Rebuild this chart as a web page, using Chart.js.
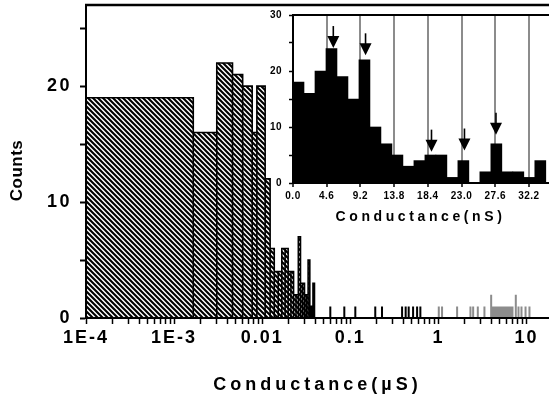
<!DOCTYPE html>
<html><head><meta charset="utf-8">
<script src="https://cdn.jsdelivr.net/npm/chart.js@4.4.1/dist/chart.umd.min.js"></script>
<style>
html,body{margin:0;padding:0;background:#fff;}
#wrap{position:relative;width:549px;height:399px;overflow:hidden;background:#fff;}
#main{position:absolute;left:0;top:0;}
#inset{position:absolute;left:250px;top:0;}
</style></head><body>
<div id="wrap">
<canvas id="main" width="549" height="399"></canvas>
<canvas id="inset" width="299" height="230"></canvas>
</div>
<script>
// ---------- main histogram (µS, log axis) ----------
const histEdges = [0.0001, 0.00165, 0.00305, 0.0046, 0.0060, 0.0077, 0.0087, 0.0108, 0.0123, 0.0137,
  0.0152, 0.0167, 0.0182, 0.0197, 0.0212, 0.0227, 0.0242, 0.0257, 0.0272, 0.0287,
  0.0302, 0.0317, 0.0332, 0.0347, 0.0362, 0.0377, 0.0392];
const histCounts = [19, 16, 22, 21, 20, 16, 20, 12, 6, 4, 4, 6, 6, 4, 4, 2, 2, 7, 3, 3, 2, 2, 5, 1, 1, 3];
const blackSpikeX = [0.0593, 0.0855, 0.114, 0.192, 0.229, 0.387, 0.425, 0.460, 0.516, 0.573, 0.624];
const blackSpikeCounts = [1, 1, 1, 1, 1, 1, 1, 1, 1, 1, 1];
const graySpikeX = [1.01, 1.10, 1.63, 2.31, 2.48, 2.80, 3.33, 3.97, 4.15, 4.33, 4.50, 4.68, 4.87, 5.07,
  5.27, 5.48, 5.70, 5.93, 6.17, 6.41, 6.66, 6.93, 7.56, 8.11, 8.77, 9.75, 10.8];
const graySpikeCounts = [1, 1, 1, 1, 1, 1, 1, 2, 1, 1, 1, 1, 1, 1, 1, 1, 1, 1, 1, 1, 1, 1, 2, 1, 1, 1, 1];
const majorTickValues = [0.0001, 0.001, 0.01, 0.1, 1, 10];
const majorTickLabels = ['1E-4', '1E-3', '0.01', '0.1', '1', '10'];

// ---------- inset histogram (nS, linear axis) ----------
const insetBinLeft = [0, 1.5, 3, 4.5, 6, 7.5, 9, 10.5, 12, 13.5, 15, 16.5, 18, 19.5, 21, 22.5, 24, 25.5, 27, 28.5, 30, 31.5, 33];
const insetCounts = [18, 16, 20, 24, 19, 15, 22, 10, 7, 5, 3, 4, 5, 5, 1, 4, 0, 2, 7, 2, 2, 1, 4];
const insetTickValues = [0, 4.6, 9.2, 13.8, 18.4, 23.0, 27.6, 32.2];
const arrowX = [5.5, 9.9, 18.9, 23.4, 27.7];
const arrowTipY = [24.1, 22.8, 5.6, 5.8, 8.6];

const FONT = "'Liberation Sans', Arial, sans-serif";
Chart.defaults.color = '#000';
Chart.defaults.font.family = FONT;

function hatchPattern() {
  const s = 5, c = document.createElement('canvas');
  c.width = s; c.height = s;
  const g = c.getContext('2d');
  g.fillStyle = '#fff'; g.fillRect(0, 0, s, s);
  g.strokeStyle = '#000'; g.lineWidth = 2.1;
  g.beginPath();
  [-s, 0, s].forEach(k => { g.moveTo(-1, k - 1); g.lineTo(s + 1, s + k + 1); });
  g.stroke();
  return g.createPattern(c, 'repeat');
}

function histPolyline(edges, counts) {
  const pts = [];
  for (let i = 0; i < counts.length; i++) {
    pts.push({x: edges[i], y: 0}, {x: edges[i], y: counts[i]}, {x: edges[i + 1], y: counts[i]}, {x: edges[i + 1], y: 0});
  }
  return pts;
}
function spikePoints(xs, cs) {
  const pts = [];
  xs.forEach((x, i) => { pts.push({x, y: 0}, {x, y: cs[i]}, {x, y: null}); });
  return pts;
}

const framePlugin = {
  id: 'frame',
  afterDraw(chart, args, o) {
    if (!o || !o.top) return;
    const {ctx, chartArea: a} = chart;
    ctx.save(); ctx.strokeStyle = '#000'; ctx.lineWidth = o.width || 2;
    ctx.beginPath(); ctx.moveTo(a.left - 1, a.top); ctx.lineTo(a.right + (o.extend || 0), a.top); ctx.stroke();
    ctx.restore();
  }
};
const textFxPlugin = {
  id: 'textFx',
  beforeDraw(chart, args, o) {
    const conf = (o && o.scales) || {};
    for (const id in chart.scales) {
      const s = chart.scales[id];
      if (s._fx) continue; s._fx = true;
      const cfg = conf[id] || {};
      const dt = s.drawTitle, dl = s.drawLabels;
      s.drawTitle = function (...a) { const c = this.ctx; c.save(); c.letterSpacing = cfg.title || '0px'; if (cfg.dy) c.translate(0, cfg.dy); dt.apply(this, a); c.restore(); };
      s.drawLabels = function (...a) { const c = this.ctx; c.save(); c.letterSpacing = cfg.ticks || '0px'; dl.apply(this, a); c.restore(); };
    }
  }
};
const arrowsPlugin = {
  id: 'arrows',
  afterDatasetsDraw(chart, args, o) {
    if (!o || !o.xs) return;
    const {ctx} = chart, x = chart.scales.x, y = chart.scales.y;
    ctx.save(); ctx.fillStyle = '#000'; ctx.strokeStyle = '#000'; ctx.lineWidth = 1.6;
    o.xs.forEach((xv, i) => {
      const px = x.getPixelForValue(xv), py = y.getPixelForValue(o.ys[i]);
      ctx.beginPath(); ctx.moveTo(px, py - o.len); ctx.lineTo(px, py - o.head + 1); ctx.stroke();
      ctx.beginPath(); ctx.moveTo(px - o.half, py - o.head); ctx.lineTo(px + o.half, py - o.head); ctx.lineTo(px, py); ctx.closePath(); ctx.fill();
    });
    ctx.restore();
  }
};

// ---------- main chart ----------
new Chart(document.getElementById('main'), {
  type: 'line',
  data: {datasets: [
    {data: histPolyline(histEdges, histCounts), borderColor: '#000', borderWidth: 1.6, backgroundColor: hatchPattern(),
      fill: 'origin', pointRadius: 0, tension: 0, borderJoinStyle: 'miter'},
    {data: spikePoints(blackSpikeX, blackSpikeCounts), borderColor: '#000', borderWidth: 2, fill: false, pointRadius: 0, spanGaps: false},
    {data: spikePoints(graySpikeX, graySpikeCounts), borderColor: '#8c8c8c', borderWidth: 2, fill: false, pointRadius: 0, spanGaps: false}
  ]},
  options: {
    responsive: false, animation: false, events: [],
    layout: {padding: {top: 5, right: 0, left: 0, bottom: 0}},
    plugins: {
      legend: {display: false}, tooltip: {enabled: false},
      frame: {top: true, width: 2.5, extend: 0},
      textFx: {scales: {x: {title: '4px', ticks: '2px'}, y: {title: '0.5px', ticks: '2.5px', dy: 9}}}
    },
    scales: {
      x: {
        type: 'logarithmic', min: 0.0001, max: 18,
        afterBuildTicks: s => {
          const t = [];
          for (let e = -4; e <= 1; e++) for (let k = 1; k <= 9; k++) { const v = k * Math.pow(10, e); if (v <= s.max) t.push({value: v}); }
          s.ticks = t;
        },
        afterFit: s => { s.height = 81; s.paddingLeft = 0; s.paddingRight = 0; },
        grid: {drawOnChartArea: false, drawTicks: true, tickLength: 6, tickColor: '#000', tickWidth: 1.5},
        border: {display: true, color: '#000', width: 2, z: 1},
        ticks: {autoSkip: false, maxRotation: 0, minRotation: 0, padding: 3, color: '#000',
          font: {family: FONT, size: 18, weight: 'bold'},
          callback: (v) => { const i = majorTickValues.findIndex(m => Math.abs(m - v) / m < 1e-6); return i >= 0 ? majorTickLabels[i] : ''; }},
        title: {display: true, text: 'Conductance(µS)', color: '#000', font: {family: FONT, size: 18, weight: 'bold'}, padding: {top: 0, bottom: 3}}
      },
      y: {
        type: 'linear', min: 0, max: 27,
        afterFit: s => { s.width = 86; s.paddingTop = 0; s.paddingBottom = 0; },
        grid: {drawOnChartArea: false, drawTicks: true, tickLength: 6, tickColor: '#000', tickWidth: 2},
        border: {display: true, color: '#000', width: 2, z: 1},
        ticks: {stepSize: 5, includeBounds: false, padding: 8, color: '#000', font: {family: FONT, size: 18, weight: 'bold'},
          callback: v => (v % 10 === 0 ? String(v) : '')},
        title: {display: true, text: 'Counts', color: '#000', font: {family: FONT, size: 17, weight: 'bold'}, padding: {top: 7, bottom: 0}}
      }
    }
  },
  plugins: [framePlugin, textFxPlugin]
});

// ---------- inset chart ----------
const insetBinWidth = insetBinLeft[1] - insetBinLeft[0];
new Chart(document.getElementById('inset'), {
  type: 'bar',
  data: {datasets: [{
    data: insetBinLeft.map((l, i) => ({x: l + insetBinWidth / 2, y: insetCounts[i]})),
    backgroundColor: '#000', borderWidth: 0, barPercentage: 1, categoryPercentage: 1
  }]},
  options: {
    responsive: false, animation: false, events: [],
    layout: {padding: {top: 15, right: 1, left: 0, bottom: 0}},
    plugins: {
      legend: {display: false}, tooltip: {enabled: false},
      frame: {top: true, width: 2, extend: 1},
      textFx: {scales: {x: {title: '3.6px', ticks: '0.5px'}, y: {ticks: '0.5px'}}},
      arrows: {xs: arrowX, ys: arrowTipY, len: 22, head: 12, half: 6}
    },
    scales: {
      x: {
        type: 'linear', offset: false, min: 0, max: 34.8,
        afterBuildTicks: s => { s.ticks = insetTickValues.map(v => ({value: v})); },
        afterFit: s => { s.height = 47; s.paddingLeft = 0; s.paddingRight = 0; },
        grid: {offset: false, drawOnChartArea: true, color: c => (c.tick && c.tick.value === 0 ? 'rgba(0,0,0,0)' : '#8c8c8c'),
          lineWidth: 2, drawTicks: true, tickLength: 4, tickColor: '#000', tickWidth: 1.5},
        border: {display: true, color: '#000', width: 2, z: 1},
        ticks: {autoSkip: false, maxRotation: 0, minRotation: 0, padding: 3, color: '#000', font: {family: FONT, size: 10, weight: 'bold'},
          callback: v => Number(v).toFixed(1)},
        title: {display: true, text: 'Conductance(nS)', color: '#000', font: {family: FONT, size: 14, weight: 'bold'}, padding: {top: 0, bottom: 4.6}}
      },
      y: {
        type: 'linear', min: 0, max: 30,
        afterFit: s => { s.width = 43; s.paddingTop = 0; s.paddingBottom = 0; },
        grid: {drawOnChartArea: false, drawTicks: true, tickLength: 4, tickColor: '#000', tickWidth: 1.5},
        border: {display: true, color: '#000', width: 2, z: 1},
        ticks: {stepSize: 5, padding: 7, color: '#000', font: {family: FONT, size: 10, weight: 'bold'},
          callback: v => (v % 10 === 0 ? String(v) : '')}
      }
    }
  },
  plugins: [framePlugin, textFxPlugin, arrowsPlugin]
});
</script>
</body></html>
